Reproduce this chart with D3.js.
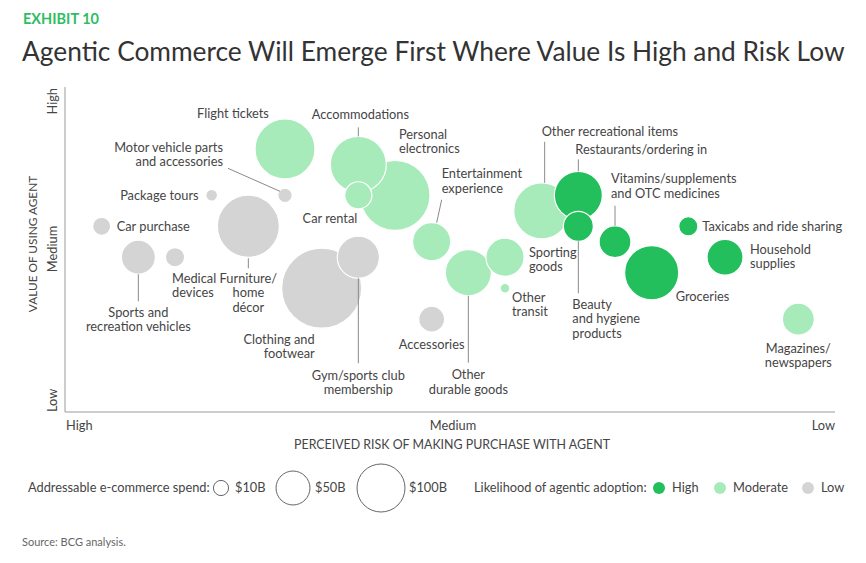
<!DOCTYPE html>
<html>
<head>
<meta charset="utf-8">
<script src="https://cdn.jsdelivr.net/npm/d3@7"></script>
<style>
  body { margin: 0; background: #fff; }
  svg { font-family: Lato, "Open Sans", sans-serif; }
  .lbl { font-size: 12.8px; fill: #454545; }
  .lead { stroke: #8a8a8a; stroke-width: 1; }
</style>
</head>
<body>
<svg id="chart" width="866" height="563"></svg>
<script>
var categories = ["Flight tickets", "Motor vehicle parts and accessories", "Package tours", "Car purchase",
  "Furniture/home décor", "Sports and recreation vehicles", "Medical devices", "Accommodations", "Car rental",
  "Personal electronics", "Entertainment experience", "Clothing and footwear", "Gym/sports club membership",
  "Accessories", "Other durable goods", "Sporting goods", "Other transit", "Other recreational items",
  "Restaurants/ordering in", "Beauty and hygiene products", "Vitamins/supplements and OTC medicines",
  "Groceries", "Taxicabs and ride sharing", "Household supplies", "Magazines/newspapers"];
// perceived risk score: 0 = high risk (left), 21 = low risk (right)
var riskScore  = [6, 6, 4, 1, 5, 2, 3, 8, 8, 9, 10, 7, 8, 10, 11, 12, 12, 13, 14, 14, 15, 16, 17, 18, 20];
// value of using agent: 0 = low, 21 = high
var valueScore = [17, 14, 14, 12, 12, 10, 10, 16, 14, 14, 11, 8, 10, 6, 9, 10, 8, 13, 14, 12, 11, 9, 12, 10, 6];
// addressable e-commerce spend, $B
var spendB     = [156, 9, 6, 14, 167, 50, 16, 136, 32, 213, 63, 278, 77, 29, 92, 63, 4, 136, 100, 39, 44, 127, 16, 56, 44];
var adoption   = ["Moderate", "Low", "Low", "Low", "Low", "Low", "Low", "Moderate", "Moderate", "Moderate", "Moderate",
  "Low", "Low", "Low", "Moderate", "Moderate", "Moderate", "Moderate", "High", "High", "High", "High", "High", "High", "Moderate"];

var adoptionLevels = ["High", "Moderate", "Low"];
var legendSpend = [10, 50, 100];
var xTicks = ["High", "Medium", "Low"];
var yTicks = ["High", "Medium", "Low"];

// label layout: lines, offset from bubble centre, anchor, optional leader line
var labelLayout = {
  "Flight tickets": {lines: ["Flight tickets"], dx: -52, dy: -35, anchor: "middle"},
  "Motor vehicle parts and accessories": {lines: ["Motor vehicle parts", "and accessories"], dx: -62, dy: -48, anchor: "end", lead: [-57, -27, -5, -4]},
  "Package tours": {lines: ["Package tours"], dx: -13, dy: 0, anchor: "end"},
  "Car purchase": {lines: ["Car purchase"], dx: 15, dy: 0, anchor: "start"},
  "Furniture/home décor": {lines: ["Furniture/", "home", "décor"], dx: 0, dy: 52, anchor: "middle", lead: [0, 32, 0, 42]},
  "Sports and recreation vehicles": {lines: ["Sports and", "recreation vehicles"], dx: 0, dy: 55, anchor: "middle", lead: [0, 17, 0, 44]},
  "Medical devices": {lines: ["Medical", "devices"], dx: -3, dy: 21, anchor: "start"},
  "Accommodations": {lines: ["Accommodations"], dx: 2, dy: -50, anchor: "middle", lead: [0, -37, 0, -28]},
  "Car rental": {lines: ["Car rental"], dx: -1, dy: 23, anchor: "end"},
  "Personal electronics": {lines: ["Personal", "electronics"], dx: 4, dy: -61, anchor: "start"},
  "Entertainment experience": {lines: ["Entertainment", "experience"], dx: 10, dy: -68, anchor: "start", lead: [10, -42, 5, -19]},
  "Clothing and footwear": {lines: ["Clothing and", "footwear"], dx: -7, dy: 51, anchor: "end"},
  "Gym/sports club membership": {lines: ["Gym/sports club", "membership"], dx: 0, dy: 118, anchor: "middle", lead: [0, 21, 0, 106]},
  "Accessories": {lines: ["Accessories"], dx: 0, dy: 25, anchor: "middle"},
  "Other durable goods": {lines: ["Other", "durable goods"], dx: 0, dy: 102, anchor: "middle", lead: [0, 23, 0, 90]},
  "Sporting goods": {lines: ["Sporting", "goods"], dx: 24, dy: -5, anchor: "start"},
  "Other transit": {lines: ["Other", "transit"], dx: 7, dy: 9, anchor: "start"},
  "Other recreational items": {lines: ["Other recreational items"], dx: 0, dy: -79, anchor: "start", lead: [3, -69, 3, -28]},
  "Restaurants/ordering in": {lines: ["Restaurants/ordering in"], dx: -3, dy: -46, anchor: "start", lead: [0, -36, 0, -24]},
  "Beauty and hygiene products": {lines: ["Beauty", "and hygiene", "products"], dx: -6, dy: 78, anchor: "start", lead: [0, 15, 0, 67]},
  "Vitamins/supplements and OTC medicines": {lines: ["Vitamins/supplements", "and OTC medicines"], dx: -4, dy: -63, anchor: "start", lead: [0, -36, 0, -16]},
  "Groceries": {lines: ["Groceries"], dx: 24, dy: 24, anchor: "start"},
  "Taxicabs and ride sharing": {lines: ["Taxicabs and ride sharing"], dx: 14, dy: 0, anchor: "start"},
  "Household supplies": {lines: ["Household", "supplies"], dx: 25, dy: -8, anchor: "start"},
  "Magazines/newspapers": {lines: ["Magazines/", "newspapers"], dx: 0, dy: 29, anchor: "middle"}
};

var svg = d3.select("#chart"),
    plot = {left: 65, right: 835, top: 87, bottom: 412};

var x = d3.scaleLinear().domain([0, 21]).range([plot.left, plot.right]);
var y = d3.scaleLinear().domain([0, 21]).range([plot.bottom, plot.top]);
var r = d3.scaleSqrt().domain([0, 100]).range([0, 24]);
var color = d3.scaleOrdinal().domain(adoptionLevels).range(["#22bf5c", "#a6ebb9", "#d4d4d4"]);

var rows = categories.map(function(c, i) {
  return {name: c, risk: riskScore[i], value: valueScore[i], spend: spendB[i], adoption: adoption[i]};
});

// header
svg.append("text")
    .attr("x", 23).attr("y", 24)
    .style("font-size", "14.5px").style("font-weight", 700).style("fill", "#2fbd63")
    .text("EXHIBIT 10");

svg.append("text")
    .attr("x", 22).attr("y", 61)
    .style("font-size", "26.3px").style("fill", "#333")
    .text("Agentic Commerce Will Emerge First Where Value Is High and Risk Low");

// axes
svg.append("line")
    .attr("x1", plot.left).attr("x2", plot.left)
    .attr("y1", plot.top).attr("y2", plot.bottom)
    .style("stroke", "#9a9a9a");
svg.append("line")
    .attr("x1", plot.left).attr("x2", plot.right)
    .attr("y1", plot.bottom).attr("y2", plot.bottom)
    .style("stroke", "#9a9a9a");

var xAnchors = ["start", "middle", "end"],
    xPos = [plot.left + 1, 453, plot.right];
svg.selectAll(".xtick")
    .data(xTicks)
  .enter().append("text")
    .attr("class", "lbl")
    .attr("x", function(d, i) { return xPos[i]; })
    .attr("y", 430)
    .attr("text-anchor", function(d, i) { return xAnchors[i]; })
    .text(function(d) { return d; });

var yAnchors = ["end", "middle", "start"],
    yPos = [plot.top + 1, 249, plot.bottom];
svg.selectAll(".ytick")
    .data(yTicks)
  .enter().append("text")
    .attr("class", "lbl")
    .attr("transform", function(d, i) { return "translate(57," + yPos[i] + ") rotate(-90)"; })
    .attr("text-anchor", function(d, i) { return yAnchors[i]; })
    .text(function(d) { return d; });

svg.append("text")
    .attr("class", "lbl")
    .attr("transform", "translate(37,244) rotate(-90)")
    .attr("text-anchor", "middle")
    .style("font-size", "11.8px")
    .text("VALUE OF USING AGENT");

svg.append("text")
    .attr("class", "lbl")
    .attr("x", 452).attr("y", 449)
    .attr("text-anchor", "middle")
    .style("font-size", "12.4px")
    .text("PERCEIVED RISK OF MAKING PURCHASE WITH AGENT");

// bubbles, biggest first so small ones sit on top
svg.append("g")
  .selectAll("circle")
    .data(rows.slice().sort(function(a, b) { return b.spend - a.spend; }))
  .enter().append("circle")
    .attr("cx", function(d) { return x(d.risk); })
    .attr("cy", function(d) { return y(d.value); })
    .attr("r", function(d) { return r(d.spend); })
    .style("fill", function(d) { return color(d.adoption); })
    .style("stroke", "#fff")
    .style("stroke-width", 1.2);

// leader lines and labels
var lab = svg.append("g");
rows.forEach(function(d) {
  var L = labelLayout[d.name], cx = x(d.risk), cy = y(d.value);
  if (L.lead) {
    lab.append("line")
        .attr("class", "lead")
        .attr("x1", cx + L.lead[0]).attr("y1", cy + L.lead[1])
        .attr("x2", cx + L.lead[2]).attr("y2", cy + L.lead[3]);
  }
  var t = lab.append("text")
      .attr("class", "lbl")
      .attr("text-anchor", L.anchor)
      .attr("x", cx + L.dx)
      .attr("y", cy + L.dy + 4.5);
  L.lines.forEach(function(s, j) {
    t.append("tspan")
        .attr("x", cx + L.dx)
        .attr("dy", j ? 14.6 : 0)
        .text(s);
  });
});

// legend: size
var lg = svg.append("g");
lg.append("text").attr("class", "lbl").attr("x", 28).attr("y", 492)
    .text("Addressable e-commerce spend:");
var sizeX = [221, 293, 381], sizeTextX = [235, 315, 409];
lg.selectAll(".szc")
    .data(legendSpend)
  .enter().append("circle")
    .attr("cx", function(d, i) { return sizeX[i]; })
    .attr("cy", 488)
    .attr("r", function(d) { return r(d); })
    .style("fill", "none").style("stroke", "#666").style("stroke-width", 1);
lg.selectAll(".szt")
    .data(legendSpend)
  .enter().append("text")
    .attr("class", "lbl")
    .attr("x", function(d, i) { return sizeTextX[i]; })
    .attr("y", 492)
    .text(function(d) { return "$" + d + "B"; });

// legend: colour
lg.append("text").attr("class", "lbl").attr("x", 474).attr("y", 492)
    .text("Likelihood of agentic adoption:");
var dotX = [659, 720, 808];
lg.selectAll(".cdot")
    .data(adoptionLevels)
  .enter().append("circle")
    .attr("cx", function(d, i) { return dotX[i]; })
    .attr("cy", 488)
    .attr("r", 6)
    .style("fill", function(d) { return color(d); });
lg.selectAll(".ctxt")
    .data(adoptionLevels)
  .enter().append("text")
    .attr("class", "lbl")
    .attr("x", function(d, i) { return dotX[i] + 13; })
    .attr("y", 492)
    .text(function(d) { return d; });

svg.append("text")
    .attr("x", 22).attr("y", 546)
    .style("font-size", "11px").style("fill", "#666")
    .text("Source: BCG analysis.");
</script>
</body>
</html>
